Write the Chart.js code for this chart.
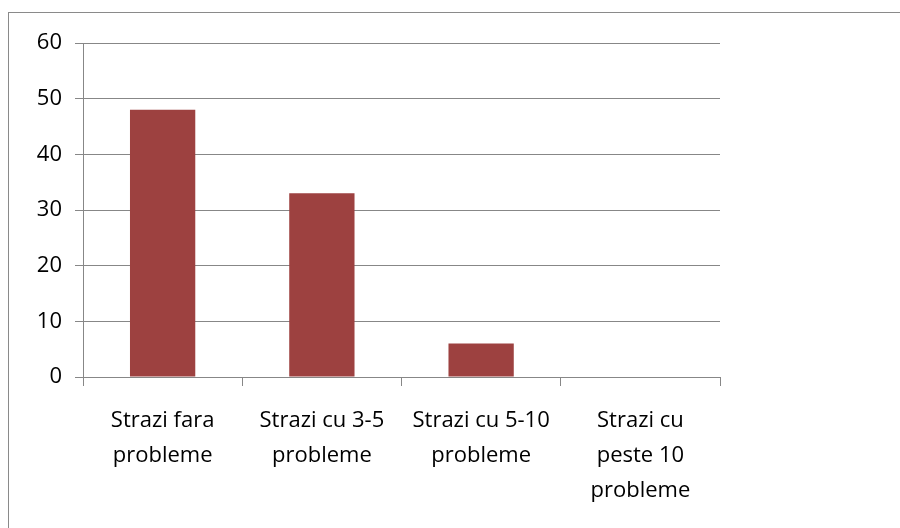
<!DOCTYPE html>
<html>
<head>
<meta charset="utf-8">
<script src="https://cdn.jsdelivr.net/npm/chart.js@4/dist/chart.umd.min.js"></script>
<style>
    html, body { margin: 0; padding: 0; background: #fff; }
    #wrap { position: relative; width: 900px; height: 528px; overflow: hidden; }
    #frame {
        position: absolute; left: 8px; top: 12px; right: -10px; bottom: -10px;
        border-left: 1px solid #8a8a8a; border-top: 1px solid #8a8a8a;
        pointer-events: none;
    }
    #chart { position: absolute; left: 0; top: 0; }
</style>
</head>
<body>
<div id="wrap">
    <div id="frame"></div>
    <canvas id="chart" width="900" height="528"></canvas>
</div>
<script>
/* ============================================
   Street problems bar chart
============================================ */

// Categories (multi-line labels) and counts
const categories = [
    ['Strazi fara', 'probleme'],
    ['Strazi cu 3-5', 'probleme'],
    ['Strazi cu 5-10', 'probleme'],
    ['Strazi cu', 'peste 10', 'probleme']
];
const streetCounts = [48, 33, 6, 0];
const yTicks = [0, 10, 20, 30, 40, 50, 60];

const FONT = "'Open Sans', 'Noto Sans', 'Liberation Sans', sans-serif";
const GRID = '#878787';

const ctx = document.getElementById('chart');

new Chart(ctx, {
    type: 'bar',
    data: {
        labels: categories,
        datasets: [{
            data: streetCounts,
            backgroundColor: '#9d4140',
            borderWidth: 0,
            categoryPercentage: 1,
            barPercentage: 0.41
        }]
    },
    options: {
        responsive: false,
        animation: false,
        layout: {
            padding: { top: 43, right: 180, bottom: 0, left: 0 }
        },
        plugins: {
            legend: { display: false },
            tooltip: { enabled: false }
        },
        scales: {
            x: {
                grid: {
                    offset: true,
                    drawOnChartArea: false,
                    drawTicks: true,
                    tickLength: 9,
                    color: GRID
                },
                border: { display: true, color: GRID, width: 1 },
                ticks: {
                    color: '#000',
                    padding: 17,
                    maxRotation: 0,
                    autoSkip: false,
                    font: { family: FONT, size: 22, lineHeight: 1.6 }
                },
                afterFit: (scale) => { scale.height = 151; }
            },
            y: {
                min: 0,
                max: 60,
                afterBuildTicks: (scale) => {
                    scale.ticks = yTicks.map(v => ({ value: v }));
                },
                grid: {
                    color: GRID,
                    drawTicks: true,
                    tickLength: 8
                },
                border: { display: true, color: GRID, width: 1 },
                ticks: {
                    color: '#000',
                    padding: 13,
                    font: { family: FONT, size: 22 }
                },
                afterFit: (scale) => { scale.width = 83; }
            }
        }
    }
});
</script>
</body>
</html>
